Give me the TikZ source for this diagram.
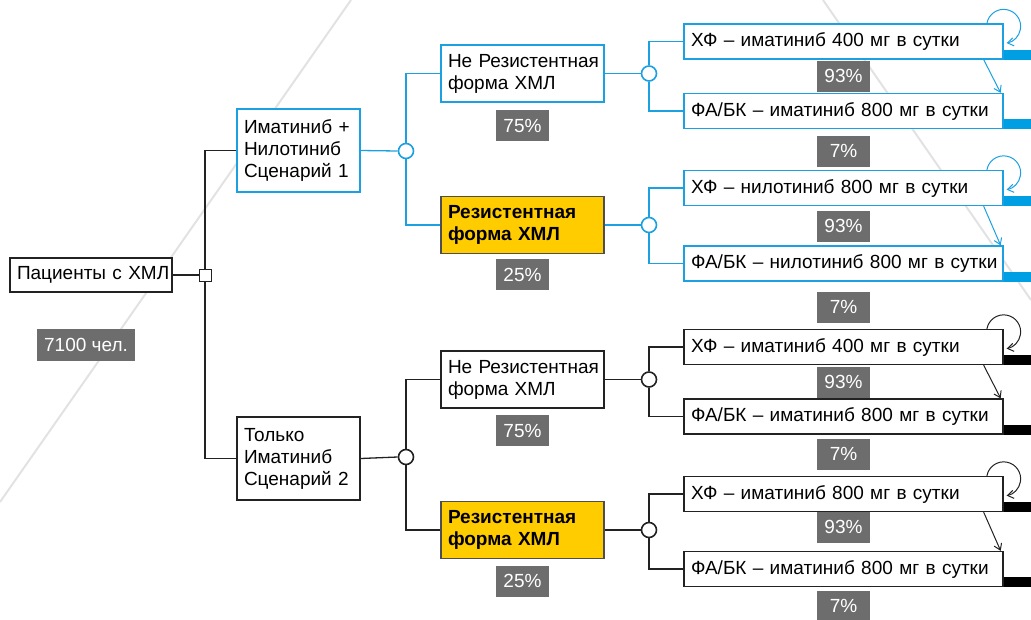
\documentclass[tikz,border=0pt]{standalone}
\usepackage{fontspec}
\setmainfont{Liberation Sans}
\usetikzlibrary{calc,arrows.meta}
\definecolor{bl}{HTML}{1BA1E2}
\definecolor{blbar}{HTML}{009FE3}
\definecolor{dk}{HTML}{222222}
\definecolor{pgray}{HTML}{6D6D6D}
\definecolor{yel}{HTML}{FFCC00}
\definecolor{bggray}{HTML}{E2E2E2}
\begin{document}
\begin{tikzpicture}[x=1pt,y=-1pt,font=\fontsize{19}{22}\selectfont,
  box/.style={draw,line width=1.3pt,fill=white,inner xsep=7pt,inner ysep=0pt,align=left,anchor=center},
  leaf/.style={box,text width=305pt,minimum height=35pt},
  midbox/.style={box,text width=149pt,minimum height=57pt},
  scen/.style={box,text width=109pt,minimum height=83pt},
  resbox/.style={midbox,fill=yel,draw=dk!80,font=\fontsize{19}{22}\selectfont\bfseries},
  pct/.style={fill=pgray,text=white,minimum width=53pt,minimum height=31pt,inner sep=0pt},
  junc/.style={circle,draw,line width=1.6pt,fill=white,minimum size=15pt,inner sep=0pt},
  conn/.style={line width=1.3pt},
  tip/.style={-{Straight Barb[length=6pt,width=8pt]},line width=1pt},
  bar/.style={line width=10pt}]
\useasboundingbox (0,0) rectangle (1031,619);
% background lines
\draw[bggray,line width=2pt] (351,0) -- (0,502);
\draw[bggray,line width=2pt] (823,0) -- (1031,300);

% root
\node[box,draw=dk,text width=148pt,minimum height=34pt] (pat) at (91,275) {\mbox{Пациенты с ХМЛ}};
\node[pct,minimum width=98pt,minimum height=32pt] (n7100) at (86,345) {7100 чел.};
\node[draw=dk,fill=white,minimum size=12pt,inner sep=0pt,line width=1pt] (sq) at (205,275) {};

% scenarios
\node[scen,draw=bl] (s1) at (298.5,150.5) {\mbox{Иматиниб +}\\Нилотиниб\\\mbox{Сценарий 1}};
\node[scen,draw=dk] (s2) at (298.5,458.5) {Только\\Иматиниб\\\mbox{Сценарий 2}};

\node[junc,draw=bl] (c1) at (406,151) {};
\node[junc,draw=dk] (c2) at (406,457) {};

% mid level
\node[midbox,draw=bl] (m1) at (522.5,73.5) {\mbox{Не Резистентная}\\\mbox{форма ХМЛ}};
\node[pct] (pm1) at (522.5,125.5) {75\%};
\node[resbox] (r1) at (522.5,225) {Резистентная\\\mbox{форма ХМЛ}};
\node[pct] (pr1) at (522.5,274.5) {25\%};
\node[midbox,draw=dk] (m2) at (522.5,379.5) {\mbox{Не Резистентная}\\\mbox{форма ХМЛ}};
\node[pct] (pm2) at (522.5,430.5) {75\%};
\node[resbox] (r2) at (522.5,530) {Резистентная\\\mbox{форма ХМЛ}};
\node[pct] (pr2) at (522.5,581) {25\%};

\node[junc,draw=bl] (d1) at (649,73.5) {};
\node[junc,draw=bl] (d2) at (649,225) {};
\node[junc,draw=dk] (d3) at (649,379.5) {};
\node[junc,draw=dk] (d4) at (649,530) {};

% leaves
\node[leaf,draw=bl] (L1) at (843.5,41.5) {\mbox{ХФ -- иматиниб 400 мг в сутки}};
\node[pct] (q1) at (843.5,76) {93\%};
\node[leaf,draw=bl] (L2) at (843.5,111) {\mbox{ФА/БК -- иматиниб 800 мг в сутки}};
\node[pct] (q2) at (843.5,151) {7\%};
\node[leaf,draw=bl] (L3) at (843.5,188) {\mbox{ХФ -- нилотиниб 800 мг в сутки}};
\node[pct] (q3) at (843.5,226) {93\%};
\node[leaf,draw=bl] (L4) at (843.5,263.5) {\mbox{ФА/БК -- нилотиниб 800 мг в сутки}};
\node[pct] (q4) at (843.5,307) {7\%};
\node[leaf,draw=dk] (L5) at (843.5,347) {\mbox{ХФ -- иматиниб 400 мг в сутки}};
\node[pct] (q5) at (843.5,382) {93\%};
\node[leaf,draw=dk] (L6) at (843.5,416.5) {\mbox{ФА/БК -- иматиниб 800 мг в сутки}};
\node[pct] (q6) at (843.5,454) {7\%};
\node[leaf,draw=dk] (L7) at (843.5,494) {\mbox{ХФ -- иматиниб 800 мг в сутки}};
\node[pct] (q7) at (843.5,527) {93\%};
\node[leaf,draw=dk] (L8) at (843.5,569) {\mbox{ФА/БК -- иматиниб 800 мг в сутки}};
\node[pct] (q8) at (843.5,606) {7\%};

% connectors root
\draw[conn,dk] (pat.east) -- (sq.west);
\draw[conn,dk] (sq.north) |- (s1.west);
\draw[conn,dk] (sq.south) |- (s2.west);

% scenario 1 (blue)
\draw[conn,bl] (s1.east) -- (c1.west);
\draw[conn,bl] (c1.north) |- (m1.west);
\draw[conn,bl] (c1.south) |- (r1.west);
\draw[conn,bl] (m1.east) -- (d1.west);
\draw[conn,bl] (r1.east) -- (d2.west);
\draw[conn,bl] (d1.north) |- (L1.west);
\draw[conn,bl] (d1.south) |- (L2.west);
\draw[conn,bl] (d2.north) |- (L3.west);
\draw[conn,bl] (d2.south) |- (L4.west);

% scenario 2 (dark)
\draw[conn,dk] (s2.east) -- (c2.west);
\draw[conn,dk] (c2.north) |- (m2.west);
\draw[conn,dk] (c2.south) |- (r2.west);
\draw[conn,dk] (m2.east) -- (d3.west);
\draw[conn,dk] (r2.east) -- (d4.west);
\draw[conn,dk] (d3.north) |- (L5.west);
\draw[conn,dk] (d3.south) |- (L6.west);
\draw[conn,dk] (d4.north) |- (L7.west);
\draw[conn,dk] (d4.south) |- (L8.west);

% bars, loops and transitions
\foreach \n/\c in {L1/blbar,L2/blbar,L3/blbar,L4/blbar,L5/black,L6/black,L7/black,L8/black}{
  \draw[bar,\c] ($(\n.south east)+(0,-5)$) -- ++(28,0);
}
\foreach \a/\b/\c in {L1/L2/bl,L3/L4/bl,L5/L6/dk,L7/L8/dk}{
  \draw[tip,\c] ($(\a.north east)+(0,3)+(190:17)$) arc[start angle=190,end angle=440,radius=17];
  \draw[tip,\c] ($(\a.south east)+(-20,0)$) -- ($(\b.north east)+(-3,0)$);
}
\end{tikzpicture}
\end{document}
